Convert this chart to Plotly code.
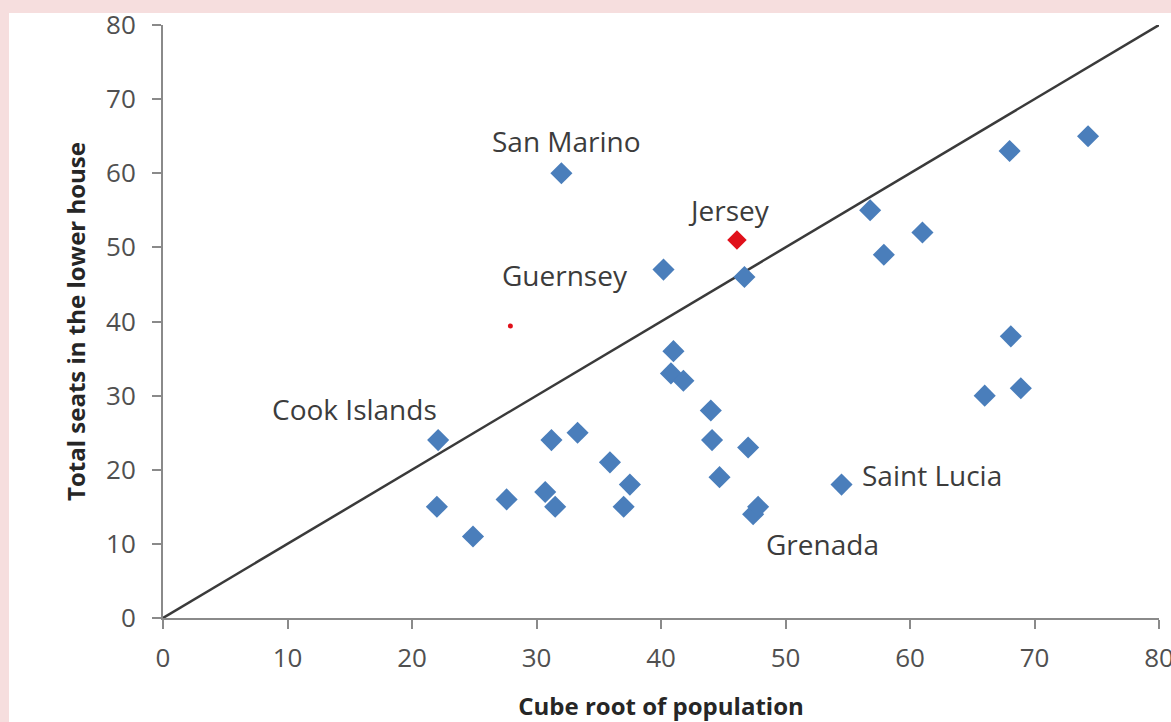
import plotly.graph_objects as go

# Blue series: cube root of population vs total seats
pop_cuberoot = [32.0, 40.2, 46.7, 41.0, 40.8, 41.8, 44.0, 44.1, 47.0, 44.7,
                22.1, 31.2, 33.3, 35.9, 37.5, 37.0, 31.5, 30.7, 27.6, 22.0,
                24.9, 47.4, 47.8, 54.5, 56.8, 57.9, 61.0, 68.0, 74.3, 68.1,
                66.0, 68.9]
seats = [60, 47, 46, 36, 33, 32, 28, 24, 23, 19,
         24, 24, 25, 21, 18, 15, 15, 17, 16, 15,
         11, 14, 15, 18, 55, 49, 52, 63, 65, 38,
         30, 31]

# Highlighted point (Jersey)
jersey_x = [46.1]
jersey_y = [51]

# Small red dot
dot_x = [27.9]
dot_y = [39.4]

# Parity line
parity_x = [0, 80]
parity_y = [0, 80]

# Labels
label_names = ["San Marino", "Jersey", "Guernsey", "Cook Islands", "Saint Lucia", "Grenada"]
label_x = [32.4, 45.5, 32.3, 15.4, 61.8, 53.0]
label_y = [64.3, 55.0, 46.3, 28.2, 19.3, 10.0]

tick_vals = [0, 10, 20, 30, 40, 50, 60, 70, 80]

FONT = "Open Sans"
BLUE = "#4A7EBB"

fig = go.Figure()
fig.add_trace(go.Scatter(x=parity_x, y=parity_y, mode="lines",
                         line=dict(color="#3a3a3a", width=2.5),
                         hoverinfo="skip", showlegend=False))
fig.add_trace(go.Scatter(x=pop_cuberoot, y=seats, mode="markers",
                         marker=dict(symbol="diamond", size=17, color=BLUE,
                                     line=dict(width=0)),
                         showlegend=False, name="Countries"))
fig.add_trace(go.Scatter(x=jersey_x, y=jersey_y, mode="markers",
                         marker=dict(symbol="diamond", size=15, color="#E0101A",
                                     line=dict(width=0)),
                         showlegend=False, name="Jersey"))
fig.add_trace(go.Scatter(x=dot_x, y=dot_y, mode="markers",
                         marker=dict(symbol="circle", size=5, color="#E0101A",
                                     line=dict(width=0)),
                         showlegend=False, name="dot"))

for name, lx, ly in zip(label_names, label_x, label_y):
    fig.add_annotation(x=lx, y=ly, text=name, showarrow=False,
                       xref="x", yref="y",
                       font=dict(family=FONT, size=28, color="#3c3c3c"))

# white chart area over pink page border
fig.add_shape(type="rect", xref="paper", yref="paper",
              x0=(9 - 163) / 996, x1=(1175 - 163) / 996,
              y0=(618 - 726) / 593, y1=(618 - 13) / 593,
              fillcolor="white", line=dict(width=0), layer="below")

axis_common = dict(range=[0, 80], tickvals=tick_vals, showgrid=False, zeroline=False,
                   showline=True, linecolor="#8a8a8a", linewidth=2,
                   ticks="outside", ticklen=9, tickwidth=2, tickcolor="#8a8a8a",
                   tickfont=dict(family=FONT, size=26, color="#505050"),
                   fixedrange=True, automargin=False, ticklabeloverflow="allow")

fig.update_layout(
    width=1171, height=722,
    margin=dict(l=163, r=12, t=25, b=104),
    paper_bgcolor="#F6DEDE",
    plot_bgcolor="white",
    xaxis=dict(**axis_common, ticklabelstandoff=7,
               title=dict(text="<b>Cube root of population</b>", standoff=25,
                          font=dict(family=FONT, size=24, color="#262626"))),
    yaxis=dict(**axis_common, ticklabelstandoff=11,
               title=dict(text="<b>Total seats in the lower house</b>", standoff=14,
                          font=dict(family=FONT, size=24, color="#262626"))),
    showlegend=False,
)

fig.write_html("out.html", config={"displayModeBar": False},
               post_script="document.body.style.margin='0';")
